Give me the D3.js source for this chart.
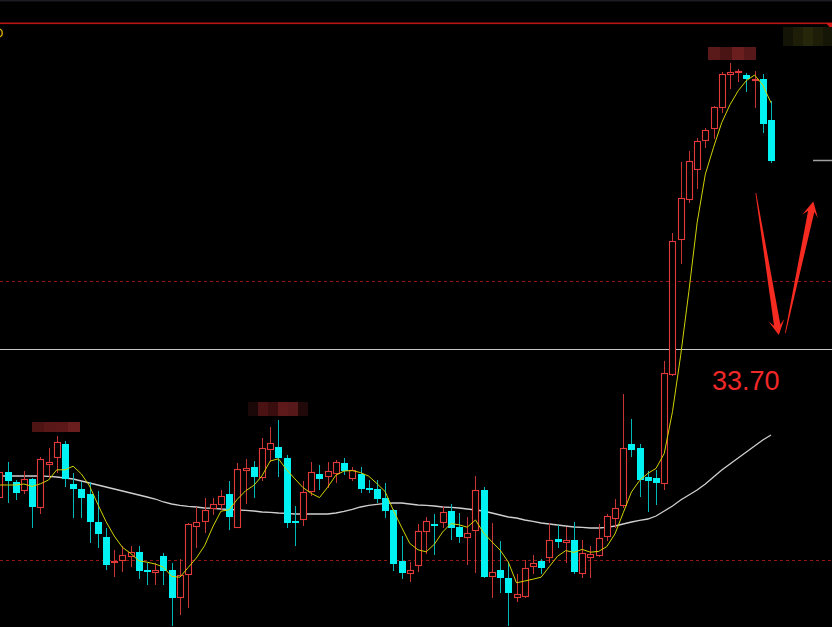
<!DOCTYPE html>
<html>
<head>
<meta charset="utf-8">
<script src="https://cdn.jsdelivr.net/npm/d3@7"></script>
<style>
  html, body { margin: 0; padding: 0; background: #000; overflow: hidden; }
  svg { display: block; }
</style>
</head>
<body>
<svg id="chart" width="832" height="627"></svg>
<script>
// Daily OHLC prices, oldest first
const open  = [26.30,27.55,27.05,26.65,27.20,25.80,27.95,28.30,28.95,26.95,26.70,26.45,25.05,24.30,23.05,23.15,23.35,23.55,22.65,22.55,23.35,22.65,21.30,22.45,24.85,25.10,25.75,25.95,26.45,24.80,27.65,27.80,27.30,28.70,28.80,28.25,25.10,25.20,26.60,27.45,27.35,27.50,28.00,27.25,27.45,26.75,26.70,26.25,25.65,23.10,22.50,22.90,24.60,24.95,25.05,25.60,24.80,24.30,24.65,26.65,22.35,22.65,22.25,21.30,21.35,22.85,23.10,23.30,24.20,24.05,24.15,22.50,23.30,23.40,24.35,25.25,25.90,28.95,28.75,27.30,27.25,27.00,32.45,39.20,41.20,42.70,44.15,44.75,45.80,47.45,47.55,47.40,47.15,47.20,45.15];
const high  = [27.75,28.05,27.15,27.60,27.25,28.30,28.75,29.35,29.10,27.50,27.05,27.05,26.60,24.75,23.65,23.85,23.85,23.85,23.00,23.00,23.50,23.00,23.20,25.00,25.80,26.25,26.25,26.65,27.10,28.00,28.20,28.10,29.25,29.80,30.15,28.40,25.85,27.10,28.05,27.90,28.05,28.15,28.25,27.80,27.80,27.15,27.15,27.00,25.70,24.35,23.05,24.95,25.30,25.45,25.85,25.95,25.50,25.30,27.35,26.80,25.00,24.10,23.00,22.45,23.15,23.40,23.20,25.00,24.90,24.80,25.05,24.15,23.85,24.95,25.45,26.20,31.45,30.20,28.95,27.60,27.65,33.10,39.50,43.05,43.60,44.25,44.75,45.85,47.55,48.00,47.70,47.50,47.60,47.45,46.10];
const low   = [26.15,26.00,26.15,26.45,24.75,25.45,27.25,27.50,26.80,25.25,25.25,24.00,23.75,22.65,22.30,22.55,22.80,22.20,21.90,21.90,21.90,19.85,20.40,20.75,23.75,24.50,25.40,25.65,24.65,24.75,25.95,26.25,27.10,28.05,27.30,24.75,23.85,24.85,26.35,26.65,26.75,27.00,27.40,27.10,26.50,26.50,26.00,25.25,22.60,22.20,22.05,22.55,23.45,23.40,24.75,24.15,24.00,22.90,22.50,22.25,21.25,21.50,19.85,21.05,21.25,22.45,22.45,23.00,23.75,23.00,22.45,22.25,22.25,23.30,24.10,24.75,25.75,28.30,26.30,25.55,25.90,26.65,32.35,37.95,41.00,41.70,43.75,44.20,45.50,46.70,47.05,46.55,45.75,44.50,43.00];
const close = [27.55,27.10,26.50,27.20,25.80,28.20,28.05,29.05,27.20,26.70,26.25,25.05,24.45,22.90,23.10,23.40,23.55,22.60,22.55,22.65,22.60,21.25,22.40,24.95,25.05,25.65,25.95,26.35,25.30,27.70,27.75,27.30,28.75,29.00,28.25,25.00,25.05,26.55,27.55,27.20,27.60,28.05,27.60,27.65,26.70,26.70,26.20,25.60,22.95,22.50,22.65,24.60,25.10,24.85,25.55,24.75,24.30,24.50,26.65,22.30,22.55,22.25,21.50,21.45,22.75,23.00,22.75,24.15,24.05,24.15,22.55,23.50,23.45,24.25,25.35,25.75,28.75,28.65,27.15,27.10,27.00,32.50,39.10,41.25,43.10,44.10,44.65,45.80,47.45,47.55,47.60,47.20,47.20,44.95,43.10];

// Short moving average (yellow) and long moving average (white)
const maShort = [26.90,26.90,26.90,26.95,26.83,26.96,27.15,27.66,27.66,27.84,27.45,26.85,25.93,25.07,24.35,23.78,23.48,23.11,23.04,22.95,22.79,22.33,22.29,22.77,23.25,23.86,24.80,25.59,25.66,26.19,26.61,26.88,27.36,28.10,28.21,27.66,27.21,26.77,26.48,26.27,26.79,27.39,27.60,27.62,27.52,27.34,26.97,26.57,25.63,24.79,23.98,23.66,23.56,23.94,24.55,24.97,24.91,24.79,25.15,24.50,24.06,23.65,23.05,22.01,22.10,22.19,22.29,22.82,23.34,23.62,23.53,23.68,23.54,23.58,23.82,24.46,25.51,26.55,27.13,27.48,27.73,28.48,30.57,33.39,36.59,40.01,42.44,43.78,45.02,45.91,46.61,47.12,47.40,46.90,46.01];
const maLong  = [27.35,27.35,27.35,27.35,27.35,27.35,27.33,27.30,27.25,27.20,27.10,27.00,26.90,26.80,26.70,26.60,26.50,26.40,26.30,26.20,26.05,25.95,25.88,25.83,25.80,25.75,25.73,25.70,25.68,25.65,25.63,25.60,25.55,25.53,25.50,25.48,25.45,25.45,25.45,25.45,25.45,25.50,25.58,25.68,25.80,25.88,25.93,25.98,26.00,26.00,25.95,25.90,25.88,25.85,25.80,25.78,25.75,25.70,25.65,25.60,25.50,25.40,25.30,25.25,25.15,25.08,25.00,24.95,24.90,24.85,24.80,24.78,24.75,24.75,24.78,24.85,24.95,25.05,25.13,25.20,25.35,25.60,25.85,26.15,26.40,26.65,26.95,27.30,27.65,27.95,28.25,28.55,28.85,29.15,29.40];

// Horizontal price levels
const frameTop     = 50.00;
const dashedLevels = [37.10, 23.15];
const targetLevel  = 33.70;
const lastMark     = 43.15;
const targetLabel  = "33.70";

const bars = open.map((_, k) => k);

const W = 832, H = 627;
const svg = d3.select("#chart");

svg.append("rect").attr("width", W).attr("height", H).attr("fill", "#000");

const x = d3.scaleLinear().domain([0, 94]).range([-0.7, 771]);
const y = d3.scaleLinear().domain([19.8, 50.0]).range([627, 23]);

const RED = "#e23a3a", RED_WICK = "#c63434";
const CYAN = "#00f2f2", CYAN_WICK = "#00b8b8";

// thin strip along the very top
svg.append("rect").attr("x", 0).attr("y", 0).attr("width", W).attr("height", 1.5).attr("fill", "#1c1c24");

// reference lines
const yTopLine = Math.round(y(frameTop));
svg.append("rect")
  .attr("x", 0).attr("y", yTopLine - 0.5).attr("width", W).attr("height", 1.6)
  .attr("fill", "#b81414");

svg.append("path")
  .attr("d", `M${W - 6},${yTopLine} L${W},${yTopLine} L${W},${yTopLine + 7} Z`)
  .attr("fill", "#d01818");

svg.selectAll("line.dash").data(dashedLevels).join("line")
  .attr("class", "dash")
  .attr("x1", 0).attr("x2", W)
  .attr("y1", d => Math.round(y(d)) + 0.5).attr("y2", d => Math.round(y(d)) + 0.5)
  .attr("stroke", "#961414").attr("stroke-width", 1)
  .attr("stroke-dasharray", "3,3");

svg.append("line")
  .attr("x1", 0).attr("x2", W)
  .attr("y1", Math.round(y(targetLevel)) + 0.5).attr("y2", Math.round(y(targetLevel)) + 0.5)
  .attr("stroke", "#c8c8c8").attr("stroke-width", 1);

svg.append("line")
  .attr("x1", 813).attr("x2", W)
  .attr("y1", Math.round(y(lastMark)) + 0.5).attr("y2", Math.round(y(lastMark)) + 0.5)
  .attr("stroke", "#a0a0a0").attr("stroke-width", 1.5);

// obscured price tags (mosaic blocks)
const mosaic = [
  { x0: 32,  y0: 422, h: 10, w: 12, cols: ["#4e1414", "#5a1717", "#5c1818", "#6a1e1e"] },
  { x0: 248, y0: 402, h: 14, w: 10, cols: ["#1a0707", "#4a1212", "#3a0e0e", "#5e1a1a", "#561818", "#220909"] },
  { x0: 708, y0: 47,  h: 13, w: 12, cols: ["#5a1a1a", "#4a1414", "#6a1e1e", "#561818"] },
  { x0: 783, y0: 27,  h: 19, w: 10, cols: ["#141406", "#1e1e08", "#26260a", "#1e1e08", "#161606"] }
];
mosaic.forEach(m => {
  svg.append("g").selectAll("rect").data(m.cols).join("rect")
    .attr("x", (col, i) => m.x0 + i * m.w).attr("y", m.y0)
    .attr("width", m.w).attr("height", m.h)
    .attr("fill", col => col);
});

// small yellow marker at the left edge
svg.append("path")
  .attr("d", "M0,29 Q3,31 2,33 Q3,35 0,37")
  .attr("fill", "none").attr("stroke", "#e0b000").attr("stroke-width", 1.3);

// long MA
const lineGen = d3.line().x((d, k) => x(k)).y(d => y(d)).curve(d3.curveLinear);
svg.append("path").datum(maLong)
  .attr("d", lineGen)
  .attr("fill", "none").attr("stroke", "#cfcfcf").attr("stroke-width", 1.3);

// candles
const g = svg.append("g");
bars.forEach(k => {
  const o = open[k], c = close[k], hi = high[k], lo = low[k];
  const up = c >= o;
  const cx = Math.round(x(k));
  const yTop = Math.round(y(Math.max(o, c)));
  const yBot = Math.round(y(Math.min(o, c)));
  const wx = cx + 0.5;
  if (up) {
    g.append("line").attr("x1", wx).attr("x2", wx)
      .attr("y1", y(hi)).attr("y2", yTop)
      .attr("stroke", RED_WICK).attr("stroke-width", 1);
    g.append("line").attr("x1", wx).attr("x2", wx)
      .attr("y1", yBot).attr("y2", y(lo))
      .attr("stroke", RED_WICK).attr("stroke-width", 1);
    g.append("rect")
      .attr("x", cx - 3 + 0.5).attr("y", yTop + 0.5)
      .attr("width", 6).attr("height", Math.max(1, yBot - yTop))
      .attr("fill", "#000").attr("stroke", RED).attr("stroke-width", 1.1);
  } else {
    g.append("line").attr("x1", wx).attr("x2", wx)
      .attr("y1", y(hi)).attr("y2", y(lo))
      .attr("stroke", CYAN_WICK).attr("stroke-width", 1);
    g.append("rect")
      .attr("x", cx - 3).attr("y", yTop)
      .attr("width", 7).attr("height", Math.max(2, yBot - yTop))
      .attr("fill", CYAN);
  }
});

// short MA on top of candles
svg.append("path").datum(maShort)
  .attr("d", lineGen)
  .attr("fill", "none").attr("stroke", "#d2d200").attr("stroke-width", 1);

// tapered arrows (positions in bar index / price)
function arrow(k1, p1, k2, p2) {
  const x1 = x(k1), y1 = y(p1), x2 = x(k2), y2 = y(p2);
  const len = Math.hypot(x2 - x1, y2 - y1);
  const ux = (x2 - x1) / len, uy = (y2 - y1) / len;
  const nx = -uy, ny = ux;
  const tailW = 0.4, neckW = 3.2, headHalf = 8, headLen = 15, neckBack = 10;
  const nkx = x2 - ux * neckBack, nky = y2 - uy * neckBack;
  const bx = x2 - ux * headLen, by = y2 - uy * headLen;
  const pts = [
    [x1 + nx * tailW, y1 + ny * tailW],
    [nkx + nx * neckW, nky + ny * neckW],
    [bx + nx * headHalf, by + ny * headHalf],
    [x2, y2],
    [bx - nx * headHalf, by - ny * headHalf],
    [nkx - nx * neckW, nky - ny * neckW],
    [x1 - nx * tailW, y1 - ny * tailW]
  ];
  svg.append("path").attr("d", "M" + pts.map(p => p.join(",")).join("L") + "Z")
    .attr("fill", "#f52a20");
}
arrow(92.15, 41.50, 94.95, 34.40);
arrow(95.75, 34.50, 99.15, 41.07);

// target price label
svg.append("text")
  .attr("x", 712).attr("y", 390)
  .attr("font-family", "'Liberation Sans', Arial, sans-serif")
  .attr("font-size", 27)
  .attr("fill", "#f02828")
  .text(targetLabel);
</script>
</body>
</html>
